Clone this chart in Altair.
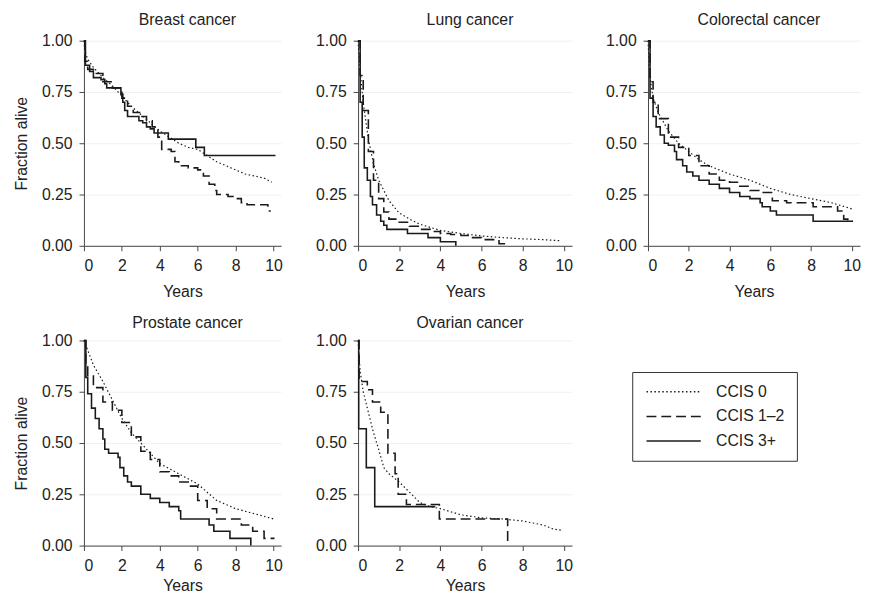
import altair as alt
import pandas as pd

GROUPS = ["CCIS 0", "CCIS 1–2", "CCIS 3+"]
X_TICKS = [0, 2, 4, 6, 8, 10]
Y_TICKS = [0, 0.25, 0.5, 0.75, 1]

# ---- Breast cancer ----
breast_0_years = [0, 0.05, 0.2, 0.5, 1, 1.5, 2, 2.5, 3, 3.5, 4, 4.5, 5, 5.5, 6, 6.5, 7, 7.5, 8, 8.5, 9, 9.5, 9.9]
breast_0_alive = [1, 0.95, 0.91, 0.87, 0.82, 0.78, 0.73, 0.68, 0.64, 0.60, 0.56, 0.53, 0.50, 0.48, 0.47, 0.44, 0.41, 0.39, 0.37, 0.35, 0.34, 0.33, 0.31]
breast_12_years = [0, 0.05, 0.2, 0.5, 1.0, 1.5, 2.0, 2.3, 2.6, 3.0, 3.3, 3.6, 3.9, 4.1, 4.6, 4.8, 5.0, 5.5, 6.0, 6.3, 6.6, 6.9, 7.0, 7.6, 8.0, 8.3, 8.6, 9.7, 9.85]
breast_12_alive = [1, 0.90, 0.86, 0.84, 0.80, 0.77, 0.72, 0.68, 0.65, 0.63, 0.61, 0.58, 0.53, 0.47, 0.46, 0.41, 0.39, 0.38, 0.37, 0.34, 0.30, 0.27, 0.25, 0.24, 0.23, 0.21, 0.20, 0.17, 0.17]
breast_3_years = [0, 0.08, 0.3, 0.5, 0.9, 1.1, 1.2, 1.95, 2.05, 2.15, 2.3, 2.9, 3.1, 3.3, 3.5, 3.7, 4.45, 5.9, 6.35, 10.1]
breast_3_alive = [1, 0.88, 0.85, 0.82, 0.81, 0.79, 0.77, 0.74, 0.70, 0.66, 0.63, 0.61, 0.60, 0.58, 0.57, 0.55, 0.52, 0.48, 0.44, 0.44]

# ---- Lung cancer ----
lung_0_years = [0, 0.1, 0.25, 0.5, 0.75, 1, 1.5, 2, 2.5, 3, 4, 5, 6, 7, 8, 9, 9.8]
lung_0_alive = [1, 0.85, 0.70, 0.52, 0.40, 0.32, 0.22, 0.16, 0.13, 0.105, 0.075, 0.06, 0.048, 0.04, 0.034, 0.03, 0.025]
lung_12_years = [0, 0.1, 0.25, 0.5, 0.75, 1, 1.25, 1.5, 2, 2.5, 3, 3.5, 4, 4.5, 5, 5.5, 6, 6.6, 6.85, 7.2]
lung_12_alive = [1, 0.83, 0.66, 0.46, 0.32, 0.23, 0.165, 0.13, 0.115, 0.095, 0.08, 0.07, 0.06, 0.055, 0.05, 0.04, 0.03, 0.03, 0.01, 0.0]
lung_3_years = [0, 0.1, 0.2, 0.3, 0.45, 0.6, 0.7, 0.9, 1.1, 1.25, 1.4, 2.4, 3.4, 4.0, 4.75]
lung_3_alive = [1, 0.70, 0.53, 0.38, 0.32, 0.24, 0.20, 0.15, 0.12, 0.10, 0.08, 0.06, 0.04, 0.02, 0.0]

# ---- Colorectal cancer ----
colo_0_years = [0, 0.1, 0.25, 0.5, 1, 1.5, 2, 2.5, 3, 3.5, 4, 5, 6, 7, 8, 9, 10]
colo_0_alive = [1, 0.82, 0.72, 0.65, 0.56, 0.50, 0.46, 0.42, 0.39, 0.37, 0.35, 0.32, 0.28, 0.25, 0.23, 0.21, 0.18]
colo_12_years = [0, 0.1, 0.25, 0.5, 1, 1.5, 2, 2.5, 3, 3.5, 4, 4.5, 5, 5.5, 6.1, 6.8, 8.1, 9.3, 9.6, 9.8, 10.05]
colo_12_alive = [1, 0.80, 0.70, 0.62, 0.53, 0.48, 0.44, 0.39, 0.35, 0.32, 0.31, 0.29, 0.27, 0.26, 0.22, 0.21, 0.19, 0.17, 0.13, 0.12, 0.12]
colo_3_years = [0, 0.1, 0.25, 0.4, 0.6, 0.8, 1.0, 1.3, 1.4, 1.7, 1.9, 2.2, 2.5, 3, 3.5, 4, 4.5, 5, 5.5, 5.6, 6, 6.3, 7, 8.1, 10.05]
colo_3_alive = [1, 0.72, 0.63, 0.58, 0.54, 0.50, 0.49, 0.46, 0.42, 0.39, 0.36, 0.34, 0.32, 0.30, 0.28, 0.26, 0.24, 0.23, 0.21, 0.19, 0.17, 0.15, 0.15, 0.12, 0.12]

# ---- Prostate cancer ----
pros_0_years = [0, 0.5, 1, 1.5, 2, 2.5, 3, 3.5, 4, 5, 6, 7, 8, 9, 10]
pros_0_alive = [1, 0.88, 0.80, 0.71, 0.62, 0.55, 0.50, 0.45, 0.40, 0.35, 0.30, 0.22, 0.18, 0.155, 0.13]
pros_12_years = [0, 0.1, 0.2, 0.5, 1, 1.5, 2, 2.5, 3, 3.5, 4, 4.5, 5, 5.5, 6, 6.5, 7, 8.3, 8.9, 9.5, 10.05]
pros_12_alive = [1, 0.88, 0.83, 0.77, 0.70, 0.66, 0.60, 0.53, 0.46, 0.42, 0.36, 0.34, 0.31, 0.29, 0.22, 0.18, 0.13, 0.10, 0.07, 0.035, 0.035]
pros_3_years = [0, 0.1, 0.2, 0.4, 0.6, 0.8, 1.0, 1.1, 1.3, 1.8, 1.9, 2.1, 2.3, 2.5, 3, 3.5, 4, 4.5, 5, 5.1, 6.6, 6.85, 7.7, 8.8]
pros_3_alive = [1, 0.82, 0.74, 0.67, 0.62, 0.57, 0.52, 0.47, 0.45, 0.43, 0.38, 0.34, 0.31, 0.29, 0.25, 0.23, 0.21, 0.19, 0.17, 0.13, 0.10, 0.07, 0.035, 0.0]

# ---- Ovarian cancer ----
ovar_0_years = [0, 0.1, 0.25, 0.5, 0.75, 1, 1.25, 1.5, 2, 2.5, 3, 3.5, 4, 5, 6, 7, 8, 9, 9.5, 9.9]
ovar_0_alive = [1, 0.85, 0.75, 0.65, 0.55, 0.47, 0.38, 0.35, 0.31, 0.26, 0.21, 0.19, 0.18, 0.15, 0.135, 0.13, 0.12, 0.10, 0.08, 0.075]
ovar_12_years = [0, 0.05, 0.45, 0.7, 1.1, 1.45, 1.8, 1.95, 2.35, 3.95, 7.27]
ovar_12_alive = [1, 0.80, 0.76, 0.70, 0.65, 0.45, 0.35, 0.25, 0.20, 0.13, 0.0]
ovar_3_years = [0, 0.03, 0.4, 0.81, 3.75]
ovar_3_alive = [1, 0.57, 0.38, 0.19, 0.19]

CURVES = {
    "Breast cancer": [(breast_0_years, breast_0_alive), (breast_12_years, breast_12_alive), (breast_3_years, breast_3_alive)],
    "Lung cancer": [(lung_0_years, lung_0_alive), (lung_12_years, lung_12_alive), (lung_3_years, lung_3_alive)],
    "Colorectal cancer": [(colo_0_years, colo_0_alive), (colo_12_years, colo_12_alive), (colo_3_years, colo_3_alive)],
    "Prostate cancer": [(pros_0_years, pros_0_alive), (pros_12_years, pros_12_alive), (pros_3_years, pros_3_alive)],
    "Ovarian cancer": [(ovar_0_years, ovar_0_alive), (ovar_12_years, ovar_12_alive), (ovar_3_years, ovar_3_alive)],
}

LINE = "#1a1a1a"
FONT = "Liberation Sans"
FS = 16


def frame(cancer):
    rows = []
    for g, (ts, ss) in zip(GROUPS, CURVES[cancer]):
        for t, s in zip(ts, ss):
            rows.append({"years": t, "alive": s, "group": g})
    return pd.DataFrame(rows)


dash_scale = alt.Scale(domain=GROUPS, range=[[1.5, 2.5], [10, 5], [1, 0]])
legend = alt.Legend(
    title=None, orient="none", legendX=556, legendY=336, direction="vertical",
    strokeColor="#333", fillColor="white", padding=12,
    symbolType="M-1,0H9", symbolSize=121, symbolStrokeWidth=1.5, symbolStrokeColor=LINE,
    labelFontSize=FS, labelColor="#222", labelFont=FONT, rowPadding=9, labelOffset=57,
)


def panel(cancer, width, ytitle, title_offset, x_title_pad):
    df = frame(cancer)
    x = alt.X("years:Q", scale=alt.Scale(domain=[0, 10.4], nice=False, zero=False),
              axis=alt.Axis(values=X_TICKS, title="Years", grid=False, format="d",
                            titlePadding=x_title_pad))
    if ytitle:
        yaxis = alt.Axis(values=Y_TICKS, format=".2f", grid=True, title="Fraction alive")
    else:
        yaxis = alt.Axis(values=Y_TICKS, format=".2f", grid=True, title=None)
    y = alt.Y("alive:Q", scale=alt.Scale(domain=[0, 1], nice=False), axis=yaxis)
    dash = alt.StrokeDash("group:N", scale=dash_scale, legend=legend)
    base = alt.Chart(df)
    dotted = base.transform_filter(alt.datum.group == GROUPS[0]).mark_line(
        interpolate="linear", strokeWidth=1.2, color=LINE).encode(x=x, y=y, strokeDash=dash)
    steps = base.transform_filter(alt.datum.group != GROUPS[0]).mark_line(
        interpolate="step-after", strokeWidth=1.6, color=LINE).encode(x=x, y=y, strokeDash=dash)
    return alt.layer(dotted, steps).properties(
        width=width, height=208,
        title=alt.TitleParams(text=cancer, fontSize=FS, fontWeight="normal",
                              offset=title_offset, dx=5, color="#222", font=FONT),
    )


row1 = alt.hconcat(panel("Breast cancer", 200, True, 5, 10),
                   panel("Lung cancer", 217, False, 5, 10),
                   panel("Colorectal cancer", 215, False, 5, 10), spacing=32)
row2 = alt.hconcat(panel("Prostate cancer", 200, True, 2, 5),
                   panel("Ovarian cancer", 217, False, 2, 5), spacing=32)

chart = alt.vconcat(row1, row2, spacing=16).properties(
    padding={"left": 5, "top": 0, "right": 0, "bottom": 0}
).configure(font=FONT).configure_view(stroke=None).configure_axis(
    domainColor="#444", tickColor="#444", tickSize=5, labelPadding=7,
    labelFontSize=FS, labelColor="#222", labelFont=FONT,
    titleFontSize=FS, titleFontWeight="normal", titleColor="#222", titleFont=FONT,
    gridColor="#f0f0f0",
).configure_axisY(titlePadding=12)

chart.save("out.html", embed_options={"renderer": "svg", "actions": False})
